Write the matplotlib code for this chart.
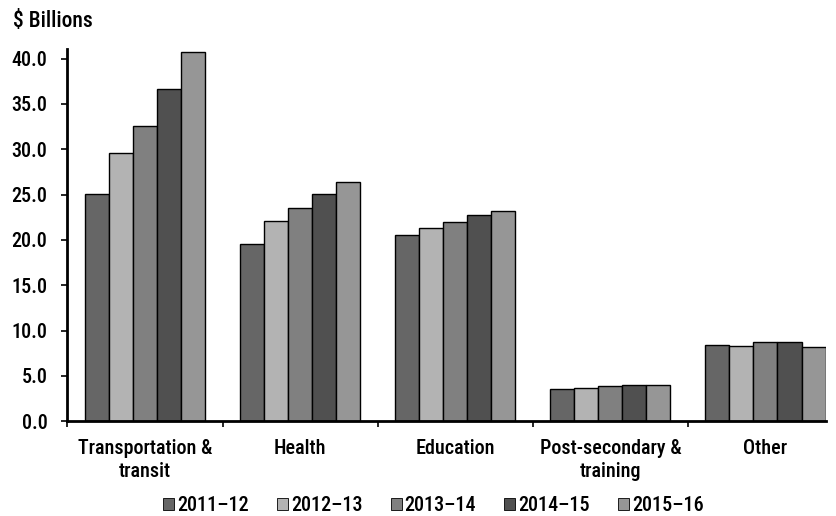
import numpy as np
import matplotlib
matplotlib.use('Agg')
import matplotlib.pyplot as plt

plt.rcParams['font.family'] = ['Roboto Condensed', 'DejaVu Sans']
plt.rcParams['font.weight'] = 500

# Categories and yearly values ($ billions)
categories = ['Transportation &\ntransit', 'Health', 'Education',
              'Post-secondary &\ntraining', 'Other']
years = ['2011\u201312', '2012\u201313', '2013\u201314', '2014\u201315', '2015\u201316']

v_2011 = [25.1, 19.6, 20.5, 3.6, 8.4]
v_2012 = [29.6, 22.1, 21.3, 3.7, 8.35]
v_2013 = [32.6, 23.5, 22.0, 3.85, 8.7]
v_2014 = [36.6, 25.1, 22.8, 3.95, 8.7]
v_2015 = [40.7, 26.4, 23.2, 4.05, 8.2]

series = [v_2011, v_2012, v_2013, v_2014, v_2015]
colors = ['#666666', '#b3b3b3', '#808080', '#505050', '#969696']

fs = 14.5

fig = plt.figure(figsize=(8.36, 5.16), dpi=100)
ax = fig.add_axes([0.0807, 0.1835, 0.9073, 0.7215])

x = np.arange(len(categories))
w = 0.155
for i, (vals, c, lb) in enumerate(zip(series, colors, years)):
    ax.bar(x + (i - 2) * w, vals, width=w, color=c, edgecolor='black',
           linewidth=1, label=lb)

ax.set_ylim(0, 41.05)
ax.set_xlim(-0.5, 4.39)
ax.set_yticks(np.arange(0, 41, 5))
ax.set_yticklabels(['%.1f' % v for v in np.arange(0, 41, 5)], fontsize=fs)

# category labels between boundary ticks
ax.set_xticks(np.arange(-0.5, 4.5, 1))
ax.set_xticklabels([])
ax.set_xticks(x, minor=True)
ax.set_xticklabels(categories, minor=True, fontsize=fs, linespacing=1.27)
ax.tick_params(axis='x', which='minor', length=0, pad=13)
ax.tick_params(axis='x', which='major', length=4, width=1.2, direction='out')
ax.tick_params(axis='y', length=4.5, width=1.2, direction='out', pad=10)

for s in ['top', 'right']:
    ax.spines[s].set_visible(False)
ax.spines['left'].set_linewidth(2)
ax.spines['bottom'].set_linewidth(2)

fig.text(0.015, 0.959, '$ Billions', fontsize=15.5, va='center', ha='left')

leg = fig.legend(loc='center', bbox_to_anchor=(0.5186, 0.02), ncol=5, frameon=False,
                 fontsize=fs, handlelength=0.55, handleheight=0.55,
                 handletextpad=0.15, columnspacing=1.4, borderpad=0)
for h in leg.legend_handles:
    h.set_linewidth(0.6)

fig.savefig('out.png', dpi=100)
